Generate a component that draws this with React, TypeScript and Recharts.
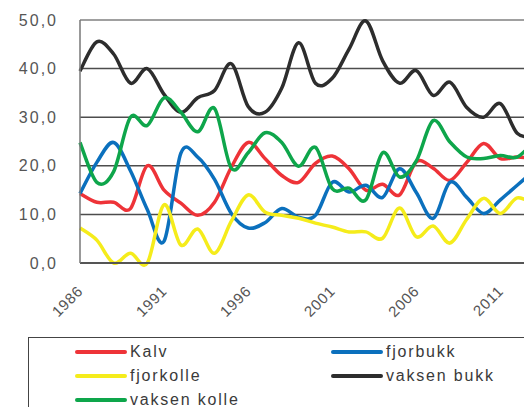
import React from "react";
import { LineChart, Line, XAxis, YAxis, CartesianGrid, ReferenceLine } from "recharts";

const years = [
  1986, 1987, 1988, 1989, 1990, 1991, 1992, 1993, 1994, 1995, 1996, 1997, 1998, 1999,
  2000, 2001, 2002, 2003, 2004, 2005, 2006, 2007, 2008, 2009, 2010, 2011, 2012, 2013,
];
const kalv = [
  14.3, 12.5, 12.5, 11.2, 20, 15, 12.3, 9.8, 12.5, 19.7, 24.8, 21.5, 18, 16.6,
  20.5, 22, 19.4, 15, 16.2, 14, 20.8, 19.5, 17, 20.7, 24.6, 21.5, 21.8, 21.5,
];
const fjorbukk = [
  14.3, 20.7, 24.8, 19, 11, 4.5, 22.6, 21.8, 17.2, 10.2, 7.2, 8.3, 11.2, 9.4,
  9.8, 16.6, 14.6, 16, 13.5, 19.4, 14.5, 9.2, 16.6, 13.5, 10.2, 13, 16, 19,
];
const fjorkolle = [
  7.2, 4.7, 0, 2, 0, 12, 3.7, 7, 2, 8.6, 14, 10.5, 9.8, 9.2,
  8.2, 7.4, 6.4, 6.4, 5.1, 11.3, 5.4, 7.6, 4.1, 9, 13.3, 10.2, 13.4, 12,
];
const vaksenBukk = [
  39.5, 45.5, 43, 37, 40, 34.7, 31, 34, 35.5, 41, 32.2, 31, 36, 45.3,
  37, 38, 44, 49.8, 41.6, 37, 39.6, 34.5, 37.2, 32, 30, 32.8, 26.7, 26,
];
const vaksenKolle = [
  24.8, 16.6, 18.8, 30, 28.3, 34, 31, 27, 31.8, 19.5, 22.7, 26.8, 24.8, 19.9,
  23.8, 15.3, 15.4, 13, 22.7, 17.7, 21, 29.3, 24.9, 21.8, 21.5, 22.1, 21.8, 25,
];

const yTicks = [0, 10, 20, 30, 40, 50];
const xTicks = [1986, 1991, 1996, 2001, 2006, 2011];

const series = [
  { key: "kalv", name: "Kalv", color: "#ee3338", values: kalv },
  { key: "fjorbukk", name: "fjorbukk", color: "#0b70bd", values: fjorbukk },
  { key: "fjorkolle", name: "fjorkolle", color: "#f5ec1b", values: fjorkolle },
  { key: "vaksenBukk", name: "vaksen bukk", color: "#2d2d2d", values: vaksenBukk },
  { key: "vaksenKolle", name: "vaksen kolle", color: "#0ea64b", values: vaksenKolle },
];

const data = years.map((year, i) => {
  const row: Record<string, number> = { year };
  series.forEach((s) => {
    row[s.key] = s.values[i];
  });
  return row;
});

// Excel-style smoothed line (Catmull-Rom through the points)
const smoothCurve = (context: any) => {
  let pts: [number, number][] = [];
  return {
    areaStart() {},
    areaEnd() {},
    lineStart() {
      pts = [];
    },
    point(x: number, y: number) {
      pts.push([+x, +y]);
    },
    lineEnd() {
      if (!pts.length) return;
      context.moveTo(pts[0][0], pts[0][1]);
      for (let i = 0; i < pts.length - 1; i++) {
        const p0 = pts[i - 1] || pts[i];
        const p1 = pts[i];
        const p2 = pts[i + 1];
        const p3 = pts[i + 2] || p2;
        context.bezierCurveTo(
          p1[0] + (p2[0] - p0[0]) / 6,
          p1[1] + (p2[1] - p0[1]) / 6,
          p2[0] - (p3[0] - p1[0]) / 6,
          p2[1] - (p3[1] - p1[1]) / 6,
          p2[0],
          p2[1]
        );
      }
    },
  };
};

const font = "'Liberation Sans', Arial, sans-serif";

const XTick = ({ x, payload }: any) => {
  const ax = x + 4;
  const ay = 292;
  return (
    <text
      x={ax}
      y={ay}
      transform={`rotate(-45 ${ax} ${ay})`}
      textAnchor="end"
      fill="#555"
      fontSize={15}
      fontFamily={font}
      letterSpacing={0.8}
    >
      {payload.value}
    </text>
  );
};

const legendRows = [
  [series[0], series[1]],
  [series[2], series[3]],
  [series[4]],
];

export default function App() {
  return (
    <div
      style={{
        position: "fixed",
        left: 0,
        top: 0,
        width: 524,
        height: 407,
        overflow: "hidden",
        background: "#fff",
      }}
    >
      <LineChart
        width={560}
        height={407}
        data={data}
        margin={{ top: 20, right: 26, left: 0, bottom: 104 }}
      >
        <CartesianGrid horizontal vertical={false} stroke="#4d4d4d" strokeWidth={1.5} />
        <ReferenceLine y={50} stroke="#a0a0a0" strokeWidth={2} />
        <XAxis
          dataKey="year"
          type="number"
          domain={[1986, 2013]}
          ticks={xTicks}
          tick={<XTick />}
          tickLine={false}
          axisLine={{ stroke: "#555", strokeWidth: 2 }}
          height={40}
          interval={0}
        />
        <YAxis
          domain={[0, 50]}
          ticks={yTicks}
          width={80}
          tickLine={false}
          tickMargin={16}
          axisLine={{ stroke: "#777", strokeWidth: 1.5 }}
          tick={{ fill: "#555", fontSize: 16, fontFamily: font, letterSpacing: 2 }}
          tickFormatter={(v: number) => v.toFixed(1).replace(".", ",")}
        />
        {series.map((s) => (
          <Line
            key={s.key}
            dataKey={s.key}
            name={s.name}
            type={smoothCurve as any}
            stroke={s.color}
            strokeWidth={3.5}
            dot={false}
            activeDot={false}
            isAnimationActive={false}
          />
        ))}
      </LineChart>
      <div
        style={{
          position: "absolute",
          left: 28,
          top: 337,
          width: 600,
          height: 120,
          border: "1px solid #444",
          fontFamily: font,
          fontSize: 16,
          letterSpacing: 1.8,
          color: "#3a3a3a",
        }}
      >
        {legendRows.map((row, r) =>
          row.map((s, c) => (
            <div
              key={s.key}
              style={{
                position: "absolute",
                left: c === 0 ? 46 : 302,
                top: 2 + r * 24,
                height: 24,
                display: "flex",
                alignItems: "center",
                whiteSpace: "nowrap",
              }}
            >
              <span
                style={{
                  display: "inline-block",
                  width: 52,
                  height: 4,
                  borderRadius: 2,
                  background: s.color,
                  marginRight: 3,
                }}
              />
              {s.name}
            </div>
          ))
        )}
      </div>
    </div>
  );
}
